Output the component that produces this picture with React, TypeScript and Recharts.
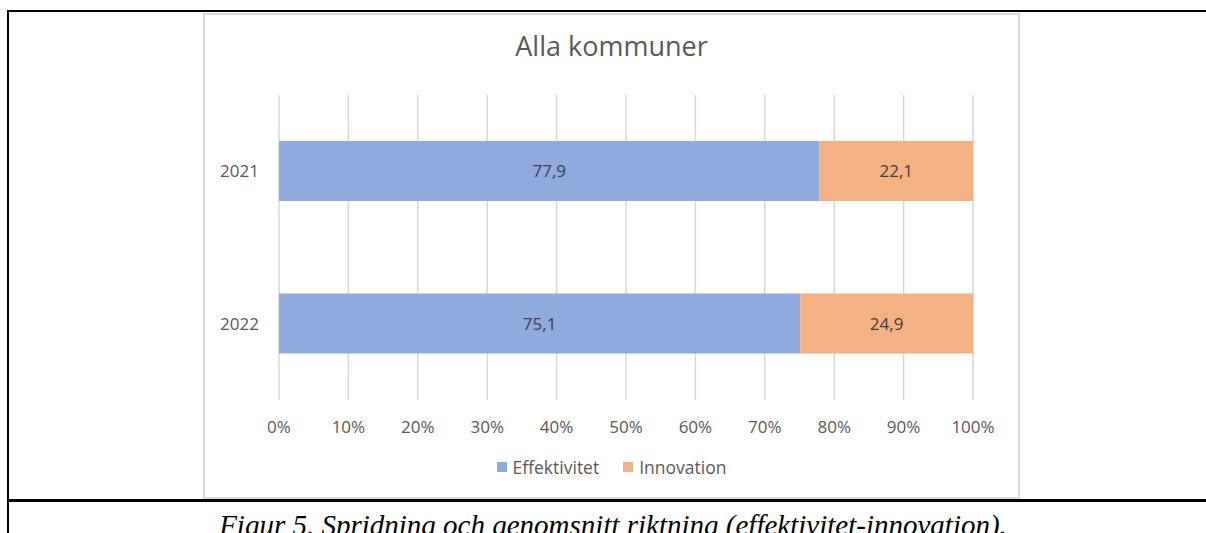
import React from "react";
import { BarChart, Bar, XAxis, YAxis, CartesianGrid, LabelList, Legend } from "recharts";

const years = ["2021", "2022"];
const effektivitet = [77.9, 75.1];
const innovation = [22.1, 24.9];
const xTicks = [0, 10, 20, 30, 40, 50, 60, 70, 80, 90, 100];

const BLUE = "#8faadc";
const ORANGE = "#f4b183";
const FONT = "'Open Sans', sans-serif";

const data = years.map((y, i) => ({ year: y, eff: effektivitet[i], inn: innovation[i] }));

const fmt = (v: number) => v.toFixed(1).replace(".", ",");

function LegendBox() {
  const items = [
    { name: "Effektivitet", color: BLUE },
    { name: "Innovation", color: ORANGE },
  ];
  return (
    <div style={{ display: "flex", justifyContent: "center", height: 20, alignItems: "center", fontFamily: FONT, fontSize: 17.5, color: "#595959" }}>
      {items.map((it) => (
        <div key={it.name} style={{ display: "flex", alignItems: "center", margin: "0 12px" }}>
          <span style={{ width: 10, height: 10, background: it.color, marginRight: 6, display: "inline-block" }} />
          <span>{it.name}</span>
        </div>
      ))}
    </div>
  );
}

export default function App() {
  return (
    <div style={{ position: "absolute", left: 0, top: 0, width: 1206, height: 533, overflow: "hidden", background: "#fff" }}>
      {/* table cell borders */}
      <div style={{ position: "absolute", left: 7, top: 10, width: 1199, height: 2, background: "#000" }} />
      <div style={{ position: "absolute", left: 7, top: 10, width: 2, height: 523, background: "#000" }} />
      <div style={{ position: "absolute", left: 7, top: 499, width: 1199, height: 3, background: "#000" }} />

      {/* chart frame */}
      <div style={{ position: "absolute", left: 203, top: 13, width: 813, height: 482, border: "2px solid #d9d9d9" }}>
        <div style={{ position: "absolute", left: 0, top: 16, width: 813, textAlign: "center", fontFamily: FONT, fontSize: 27, color: "#595959", lineHeight: "30px" }}>
          Alla kommuner
        </div>
        <BarChart
          width={813}
          height={481}
          data={data}
          layout="vertical"
          margin={{ top: 80, right: 45, bottom: 46, left: 0 }}
        >
          <CartesianGrid horizontal={false} stroke="#d9d9d9" strokeWidth={1.5} />
          <XAxis
            type="number"
            domain={[0, 100]}
            ticks={xTicks}
            tickFormatter={(v: number) => `${v}%`}
            axisLine={false}
            tickLine={false}
            tickSize={0}
            tickMargin={21}
            interval={0}
            tick={{ fill: "#595959", fontSize: 17, fontFamily: FONT }}
          />
          <YAxis
            type="category"
            dataKey="year"
            width={74}
            axisLine={false}
            tickLine={false}
            tickSize={0}
            tickMargin={20}
            tick={{ fill: "#595959", fontSize: 17, fontFamily: FONT }}
          />
          <Legend
            content={<LegendBox />}
            verticalAlign="bottom"
            wrapperStyle={{ position: "absolute", top: 442, left: 0, width: 813 }}
          />
          <Bar dataKey="eff" name="Effektivitet" stackId="a" fill={BLUE} barSize={60} isAnimationActive={false}>
            <LabelList dataKey="eff" position="center" formatter={(v: number) => fmt(v)} fill="#404040" fontSize={17} fontFamily={FONT} />
          </Bar>
          <Bar dataKey="inn" name="Innovation" stackId="a" fill={ORANGE} barSize={60} isAnimationActive={false}>
            <LabelList dataKey="inn" position="center" formatter={(v: number) => fmt(v)} fill="#404040" fontSize={17} fontFamily={FONT} />
          </Bar>
        </BarChart>
      </div>

      {/* caption */}
      <div style={{ position: "absolute", left: 0, top: 511, width: 1226, textAlign: "center", fontFamily: "'Liberation Serif', 'Times New Roman', serif", fontStyle: "italic", fontSize: 29, lineHeight: "29px", color: "#000", whiteSpace: "nowrap" }}>
        Figur 5. Spridning och genomsnitt riktning (effektivitet-innovation).
      </div>
    </div>
  );
}
